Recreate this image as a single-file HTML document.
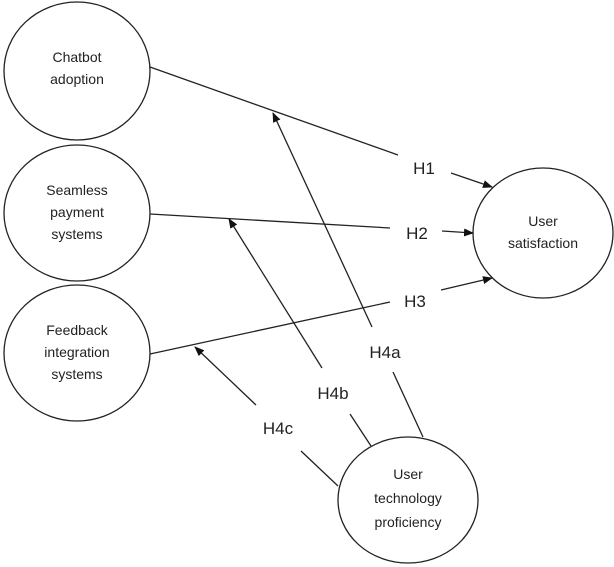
<!DOCTYPE html>
<html><head><style>
html,body{margin:0;padding:0;background:#fff;}
svg{display:block;}
text{font-family:"Liberation Sans",sans-serif;fill:#222;}
.n{font-size:14px;text-anchor:middle;}
.h{font-size:17px;text-anchor:middle;}
</style></head><body>
<svg width="614" height="567" viewBox="0 0 614 567" xmlns="http://www.w3.org/2000/svg">
<defs><marker id="a" markerWidth="10" markerHeight="8" refX="9" refY="4" orient="auto" markerUnits="userSpaceOnUse"><path d="M0,0 L10,4 L0,8 z" fill="#111"/></marker></defs>
<g fill="none" stroke="#222" stroke-width="1.3">
<ellipse cx="77" cy="71" rx="73" ry="69"/>
<ellipse cx="77" cy="213" rx="73" ry="68"/>
<ellipse cx="77" cy="353" rx="73" ry="68"/>
<ellipse cx="543" cy="233" rx="70" ry="65"/>
<ellipse cx="408" cy="500" rx="70" ry="63"/>
<line x1="150" y1="67" x2="398" y2="155"/>
<line x1="451" y1="173" x2="492" y2="187" marker-end="url(#a)"/>
<line x1="150" y1="214" x2="390" y2="228"/>
<line x1="442" y1="231" x2="473" y2="233" marker-end="url(#a)"/>
<line x1="150" y1="354" x2="390" y2="302"/>
<line x1="441" y1="290" x2="492" y2="278" marker-end="url(#a)"/>
<line x1="372" y1="327" x2="273" y2="113" marker-end="url(#a)"/>
<line x1="393" y1="372" x2="423" y2="437"/>
<line x1="322" y1="368" x2="229" y2="219" marker-end="url(#a)"/>
<line x1="350" y1="414" x2="371" y2="446"/>
<line x1="256" y1="405" x2="195" y2="347" marker-end="url(#a)"/>
<line x1="301" y1="451" x2="338" y2="486"/>
</g>
<text class="n" x="77" y="62">Chatbot</text>
<text class="n" x="77" y="84">adoption</text>
<text class="n" x="77" y="195">Seamless</text>
<text class="n" x="77" y="217">payment</text>
<text class="n" x="77" y="239">systems</text>
<text class="n" x="77" y="335">Feedback</text>
<text class="n" x="77" y="357">integration</text>
<text class="n" x="77" y="379">systems</text>
<text class="n" x="543" y="226">User</text>
<text class="n" x="543" y="248">satisfaction</text>
<text class="n" x="408" y="479">User</text>
<text class="n" x="408" y="503">technology</text>
<text class="n" x="408" y="527">proficiency</text>
<text class="h" x="424" y="174">H1</text>
<text class="h" x="417" y="239">H2</text>
<text class="h" x="415" y="307">H3</text>
<text class="h" x="385" y="358">H4a</text>
<text class="h" x="333" y="399">H4b</text>
<text class="h" x="278" y="434">H4c</text>
</svg>
</body></html>
